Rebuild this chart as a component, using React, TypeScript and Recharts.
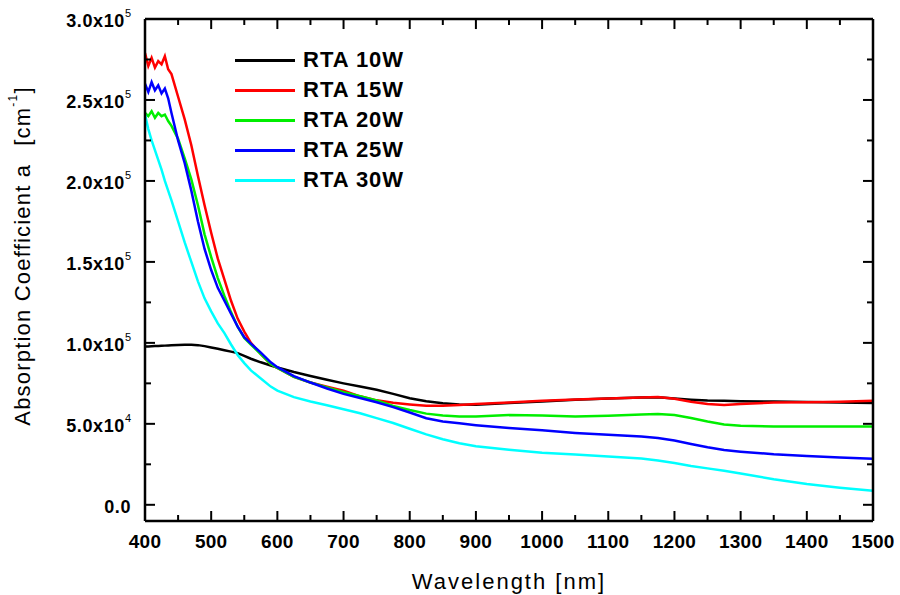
import React from 'react'
import { Line, LineChart, ReferenceLine, XAxis, YAxis } from 'recharts'

const wavelengths = [
  400, 405, 410, 415, 420, 425, 430, 435, 440, 450, 460, 470, 480, 490, 500, 510, 520, 530, 540, 550,
  560, 575, 590, 600, 625, 650, 675, 700, 725, 750, 775, 800, 825, 850, 875, 900, 950, 1000, 1050,
  1100, 1150, 1175, 1200, 1225, 1250, 1275, 1300, 1350, 1400, 1450, 1500,
]

const rta10 = [
  97700, 97800, 97900, 98000, 98100, 98200, 98300, 98400, 98500, 98700, 98800, 98800, 98600, 98000,
  97200, 96400, 95500, 94600, 93700, 92000, 90200, 88000, 86000, 84800, 82000, 79500, 77200, 75000,
  73000, 71000, 68500, 65800, 64000, 62700, 62000, 61800, 62800, 63800, 64800, 65600, 66200, 66400,
  65600, 64900, 64400, 64200, 64000, 63800, 63500, 63200, 62800,
]

const rta15 = [
  279000, 271000, 276000, 270000, 274000, 272000, 277000, 269000, 266000, 252000, 238000, 222000,
  203000, 185000, 168000, 152000, 139000, 126000, 115000, 107000, 100000, 93000, 87000, 84500, 79000,
  75500, 73000, 70500, 67000, 64500, 63000, 62000, 61200, 61200, 61700, 62200, 63200, 64200, 65000,
  65700, 66200, 66500, 65500, 63700, 62200, 61700, 62200, 63200, 63400, 63700, 64200,
]

const rta20 = [
  242000, 240000, 243000, 239000, 242000, 240000, 241000, 237000, 234000, 226000, 214000, 201000,
  185000, 167000, 153000, 140000, 129000, 119000, 110000, 103000, 99000, 93000, 87000, 84500, 79000,
  75500, 72500, 69500, 67000, 64500, 61000, 58500, 56300, 55200, 54500, 54600, 55400, 55200, 54600,
  55000, 55800, 56000, 55400, 53600, 51400, 49600, 48800, 48400, 48300, 48300, 48300,
]

const rta25 = [
  260000, 255000, 261000, 256000, 259000, 254000, 257000, 251000, 242000, 225000, 211000, 194000,
  175000, 158000, 145000, 134000, 126000, 118000, 110000, 103500, 99500, 94000, 88000, 85000, 79500,
  75500, 71800, 68500, 66000, 63300, 60300, 57000, 53500, 51500, 50300, 49200, 47400, 46000, 44400,
  43200, 42200, 41200, 39700, 37500, 35500, 33800, 32800, 31200, 30100, 29200, 28400,
]

const rta30 = [
  241000, 232000, 225000, 219000, 213000, 207000, 200000, 194000, 188000, 175000, 162000, 150000,
  138000, 127500, 119500, 112000, 106000, 99000, 92500, 87500, 83000, 78000, 73000, 70500, 66500,
  63800, 61500, 59000, 56500, 53500, 50500, 47000, 43500, 40500, 38000, 36200, 34000, 32200, 31000,
  29800, 28600, 27400, 25800, 24000, 22500, 21000, 19300, 15800, 12800, 10500, 8600,
]

const seriesNames = ['RTA 10W', 'RTA 15W', 'RTA 20W', 'RTA 25W', 'RTA 30W']
const seriesKeys = ['rta10', 'rta15', 'rta20', 'rta25', 'rta30']
const seriesColors = ['#000000', '#ff0000', '#00ee00', '#0000ff', '#00ffff']

const xTicks = [
  400, 450, 500, 550, 600, 650, 700, 750, 800, 850, 900, 950, 1000, 1050, 1100, 1150, 1200, 1250,
  1300, 1350, 1400, 1450, 1500,
]
const yTicks = [
  0, 25000, 50000, 75000, 100000, 125000, 150000, 175000, 200000, 225000, 250000, 275000, 300000,
]
const yTickLabels: Record<number, [string, string]> = {
  0: ['0.0', ''],
  50000: ['5.0x10', '4'],
  100000: ['1.0x10', '5'],
  150000: ['1.5x10', '5'],
  200000: ['2.0x10', '5'],
  250000: ['2.5x10', '5'],
  300000: ['3.0x10', '5'],
}

const Y_MIN = -10000
const Y_MAX = 300000
// top tick lengths in y units (~10px / ~6px)
const TOP_MAJOR = 6200
const TOP_MINOR = 3700

const FONT = 'Arial, "Liberation Sans", sans-serif'

const data = wavelengths.map((w, i) => ({
  w,
  rta10: rta10[i],
  rta15: rta15[i],
  rta20: rta20[i],
  rta25: rta25[i],
  rta30: rta30[i],
}))

const BottomTick = (props: any) => {
  const { x, y, payload } = props
  const major = payload.value % 100 === 0
  return (
    <g>
      <line x1={x} y1={y} x2={x} y2={y - (major ? 10 : 6)} stroke="#000" strokeWidth={2} />
      {major && (
        <text
          x={x}
          y={y + 20}
          textAnchor="middle"
          dominantBaseline="central"
          fontFamily={FONT}
          fontWeight="bold"
          fontSize={19}
          letterSpacing={0.3}
          fill="#000"
        >
          {payload.value}
        </text>
      )}
    </g>
  )
}

const LeftTick = (props: any) => {
  const { x, y, payload } = props
  const lbl = yTickLabels[payload.value]
  return (
    <g>
      <line x1={x} y1={y} x2={x + (lbl ? 10 : 6)} y2={y} stroke="#000" strokeWidth={2} />
      {lbl && (
        <text
          x={x - 14}
          y={y + 2}
          textAnchor="end"
          dominantBaseline="central"
          fontFamily={FONT}
          fontWeight="bold"
          fontSize={18}
          letterSpacing={0.6}
          fill="#000"
        >
          {lbl[0]}
          {lbl[1] && (
            <tspan dy={-8} fontSize={11} letterSpacing={0} fontWeight="normal">
              {lbl[1]}
            </tspan>
          )}
        </text>
      )}
    </g>
  )
}

const RightTick = (props: any) => {
  const { x, y, payload } = props
  const major = payload.value % 50000 === 0
  return <line x1={x} y1={y} x2={x - (major ? 10 : 6)} y2={y} stroke="#000" strokeWidth={2} />
}

const YTitle = () => (
  <text
    x={22}
    y={256}
    transform="rotate(-90, 22, 256)"
    textAnchor="middle"
    dominantBaseline="central"
    fontFamily={FONT}
    fontSize={22}
    letterSpacing={1.2}
    fill="#000"
  >
    Absorption Coefficient a
    <tspan dx={18}>[cm</tspan>
    <tspan dy={-9} fontSize={12}>
      -1
    </tspan>
    <tspan dy={9}>]</tspan>
  </text>
)

export default function App() {
  return (
    <div style={{ position: 'absolute', left: 0, top: 0, width: 900, height: 595, background: '#fff' }}>
      <LineChart width={900} height={595} data={data} margin={{ top: 1, right: 26, bottom: 0, left: 0 }}>
        <XAxis
          dataKey="w"
          type="number"
          domain={[400, 1500]}
          ticks={xTicks}
          interval={0}
          height={74}
          tickSize={0}
          tickMargin={0}
          tickLine={false}
          tick={<BottomTick />}
          axisLine={{ stroke: '#000', strokeWidth: 2.5 }}
          allowDataOverflow
          label={{
            value: 'Wavelength [nm]',
            position: 'insideBottom',
            offset: 6,
            style: { fontFamily: FONT, fontSize: 22, letterSpacing: 2, fill: '#000' },
          }}
        />
        <XAxis
          xAxisId="top"
          orientation="top"
          type="number"
          domain={[400, 1500]}
          ticks={xTicks}
          height={18}
          tick={false}
          tickLine={false}
          axisLine={{ stroke: '#000', strokeWidth: 2.5 }}
          allowDataOverflow
        />
        <YAxis
          type="number"
          domain={[Y_MIN, Y_MAX]}
          ticks={yTicks}
          interval={0}
          width={145}
          tickSize={0}
          tickMargin={0}
          tickLine={false}
          tick={<LeftTick />}
          axisLine={{ stroke: '#000', strokeWidth: 2.5 }}
          allowDataOverflow
          label={<YTitle />}
        />
        <YAxis
          yAxisId="right"
          orientation="right"
          type="number"
          domain={[Y_MIN, Y_MAX]}
          ticks={yTicks}
          interval={0}
          width={1}
          tickSize={0}
          tickMargin={0}
          tickLine={false}
          tick={<RightTick />}
          axisLine={{ stroke: '#000', strokeWidth: 2.5 }}
          allowDataOverflow
        />
        {/* inward ticks along the top frame */}
        {xTicks.map((t) => (
          <ReferenceLine
            key={`top-${t}`}
            segment={[
              { x: t, y: Y_MAX },
              { x: t, y: Y_MAX - (t % 100 === 0 ? TOP_MAJOR : TOP_MINOR) },
            ]}
            stroke="#000"
            strokeWidth={2}
            ifOverflow="visible"
          />
        ))}
        {seriesKeys.map((k, i) => (
          <Line
            key={k}
            dataKey={k}
            type="linear"
            stroke={seriesColors[i]}
            strokeWidth={2.5}
            dot={false}
            isAnimationActive={false}
          />
        ))}
      </LineChart>

      {/* legend */}
      <div style={{ position: 'absolute', left: 235, top: 45 }}>
        {seriesNames.map((name, i) => (
          <div key={name} style={{ display: 'flex', alignItems: 'center', height: 30 }}>
            <div style={{ width: 60, height: 3, background: seriesColors[i] }} />
            <span
              style={{
                marginLeft: 8,
                fontFamily: FONT,
                fontWeight: 'bold',
                fontSize: 22,
                letterSpacing: 1,
                color: '#000',
              }}
            >
              {name}
            </span>
          </div>
        ))}
      </div>
    </div>
  )
}
